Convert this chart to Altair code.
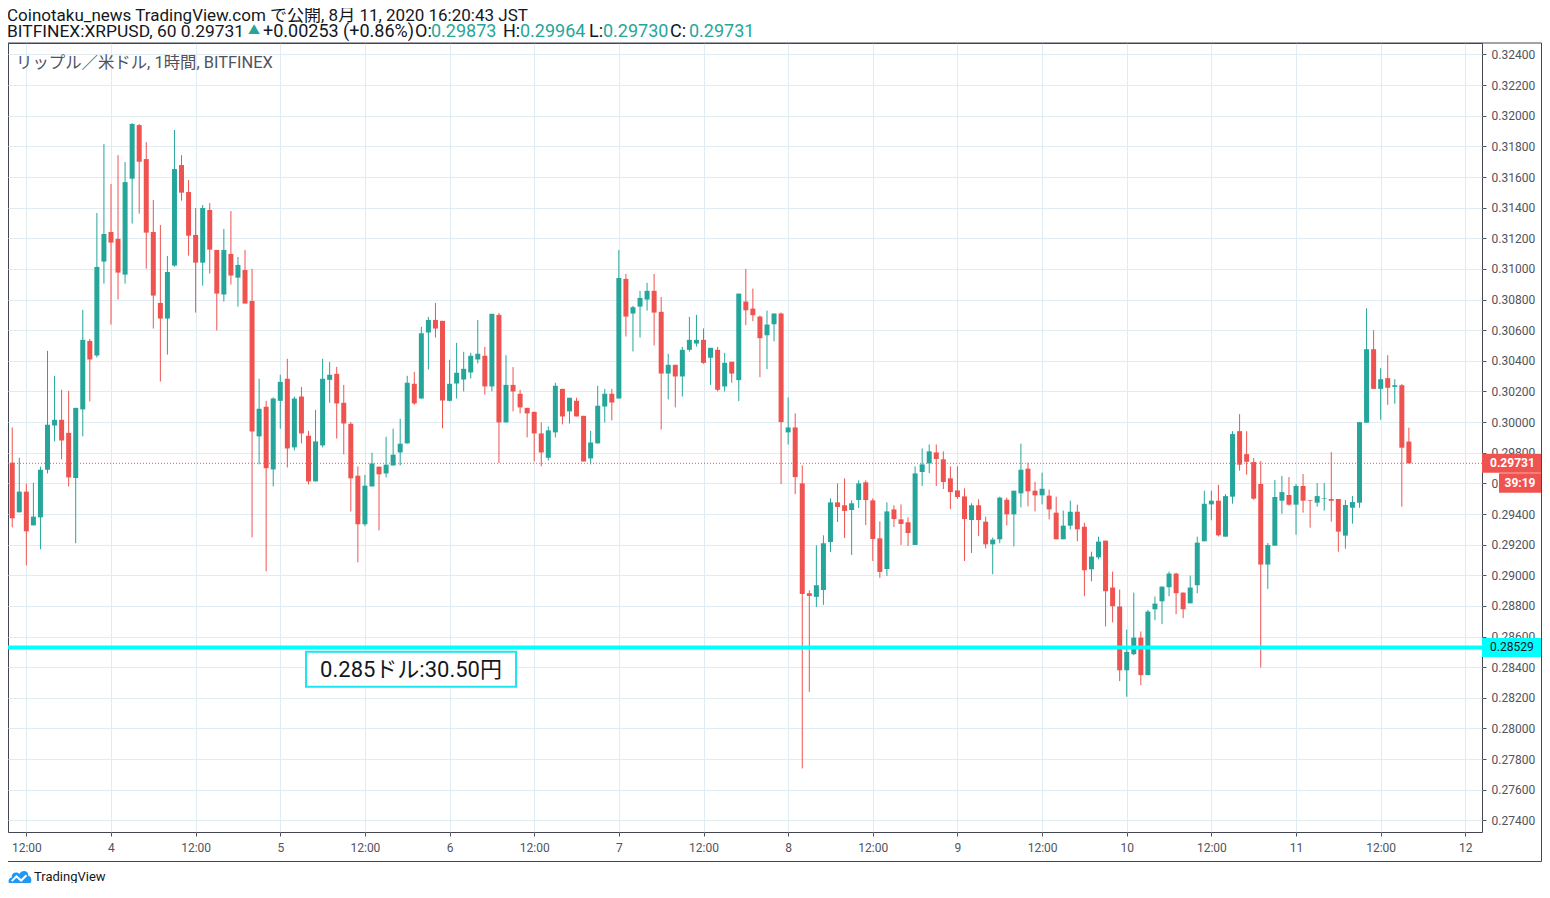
import altair as alt
import pandas as pd

# ---------------- data (hourly candles, JST) ----------------
first_candle = "2020-08-03 10:00"

opens = [
    .29735, .29411, .29546, .29326, .29378, .29689, .29978, .30015, .29930, .29635,
    .30083, .30530, .30435, .31048, .31241, .31196, .30963, .31589, .31939, .31717,
    .31241, .30778, .30676, .31022, .31678, .31502, .31222, .31041, .31385, .31124,
    .30833, .31098, .30943, .30993, .30791, .29907, .30100, .29691, .30139, .30283,
    .29835, .30167, .29911, .29613, .29848, .30276, .30315, .30126, .29989, .29650,
    .29333, .29580, .29709, .29665, .29717, .29802, .29861, .30250, .30154, .30585,
    .30667, .30661, .30139, .30252, .30278, .30324, .30409, .30433, .30233, .30700,
    .29998, .30243, .30185, .30093, .30067, .29926, .29767, .29933, .30217, .30070,
    .30139, .30041, .29763, .29861, .30102, .30185, .30154, .30935, .30709, .30754,
    .30800, .30857, .30720, .30317, .30374, .30298, .30472, .30513, .30537, .30420,
    .30472, .30233, .30394, .30274, .30787, .30741, .30689, .30567, .30639, .30709,
    .29933, .29965, .29600, .28883, .28859, .28904, .29217, .29476, .29457, .29426,
    .29491, .29607, .29489, .29241, .29041, .29430, .29365, .29346, .29198, .29674,
    .29730, .29802, .29757, .29633, .29554, .29515, .29361, .29457, .29350, .29202,
    .29235, .29493, .29398, .29535, .29696, .29552, .29522, .29520, .29409, .29235,
    .29324, .29415, .29317, .29039, .29117, .29226, .28920, .28796, .28380, .28485,
    .28593, .28348, .28778, .28830, .28922, .29011, .28887, .28817, .28935, .29222,
    .29463, .29487, .29252, .29513, .29941, .29791, .29739, .29596, .29070, .29193,
    .29487, .29524, .29461, .29583, .29491, .29474, .29500, .29498, .29498, .29259,
    .29441, .29474, .29996, .30476, .30217, .30287, .30230, .30241, .29873,
]
highs = [
    .29965, .29767, .29598, .29604, .29709, .30465, .30302, .30211, .30204, .30093,
    .30733, .30543, .31365, .31815, .31554, .31743, .31698, .31952, .31946, .31828,
    .31450, .31287, .31085, .31907, .31743, .31580, .31398, .31417, .31430, .31124,
    .31261, .31378, .31078, .31124, .31000, .30283, .30139, .30161, .30309, .30413,
    .30167, .30230, .29943, .30080, .30413, .30393, .30361, .30243, .30000, .29711,
    .29656, .29800, .29709, .29904, .29957, .30022, .30302, .30328, .30622, .30687,
    .30778, .30661, .30407, .30517, .30459, .30452, .30667, .30491, .30707, .30713,
    .30437, .30359, .30211, .30093, .30067, .29998, .29972, .30257, .30217, .30159,
    .30159, .30041, .29943, .30237, .30217, .30217, .31124, .30967, .30759, .30857,
    .30909, .30967, .30817, .30446, .30374, .30491, .30687, .30700, .30611, .30485,
    .30491, .30452, .30394, .30839, .31000, .30872, .30696, .30728, .30709, .30715,
    .30161, .30057, .29717, .28902, .29196, .29261, .29502, .29600, .29633, .29489,
    .29620, .29620, .29502, .29352, .29476, .29457, .29463, .29378, .29711, .29828,
    .29854, .29854, .29809, .29711, .29711, .29567, .29470, .29496, .29383, .29246,
    .29513, .29507, .29552, .29859, .29735, .29611, .29670, .29559, .29513, .29422,
    .29487, .29461, .29343, .29154, .29252, .29226, .29024, .28907, .28646, .28887,
    .28633, .28774, .28861, .28926, .29024, .29017, .28887, .28998, .29252, .29552,
    .29552, .29591, .29530, .29941, .30052, .29941, .29765, .29746, .29211, .29622,
    .29648, .29641, .29596, .29661, .29491, .29602, .29602, .29804, .29498, .29491,
    .29517, .30000, .30743, .30600, .30352, .30437, .30280, .30248, .29964,
]
lows = [
    .29313, .29411, .29065, .29326, .29170, .29665, .29874, .29757, .29580, .29209,
    .29907, .30135, .30422, .30904, .30637, .30800, .30904, .31296, .31361, .31002,
    .30611, .30265, .30441, .31015, .31446, .31087, .30715, .30891, .30970, .30598,
    .30787, .30898, .30754, .30774, .29248, .29724, .29026, .29580, .29957, .29704,
    .29815, .29861, .29593, .29613, .29835, .30126, .29893, .29789, .29417, .29085,
    .29320, .29580, .29293, .29639, .29717, .29717, .29861, .30113, .30154, .30343,
    .30552, .29959, .30135, .30154, .30200, .30285, .30383, .30180, .30200, .29733,
    .29998, .30070, .30057, .29900, .29743, .29711, .29750, .29900, .29985, .29991,
    .30037, .29743, .29724, .29861, .29998, .30011, .30154, .30559, .30461, .30552,
    .30728, .30500, .29952, .30148, .30096, .30167, .30461, .30493, .30381, .30243,
    .30200, .30200, .30257, .30137, .30633, .30659, .30293, .30346, .30528, .29596,
    .29854, .29530, .27739, .28239, .28793, .28807, .29152, .29348, .29243, .29133,
    .29439, .29328, .29093, .28983, .28996, .29315, .29198, .29191, .29198, .29583,
    .29667, .29583, .29563, .29433, .29498, .29093, .29146, .29257, .29176, .29007,
    .29209, .29326, .29189, .29443, .29450, .29417, .29463, .29365, .29235, .29235,
    .29300, .29222, .28863, .28961, .29104, .28667, .28693, .28309, .28207, .28478,
    .28283, .28348, .28707, .28681, .28863, .28746, .28720, .28817, .28883, .29222,
    .29359, .29254, .29252, .29467, .29683, .29657, .29493, .28398, .28911, .29193,
    .29402, .29454, .29265, .29409, .29311, .29448, .29422, .29350, .29154, .29174,
    .29337, .29441, .29996, .30217, .30015, .30113, .30120, .29448, .29730,
]
closes = [
    .29372, .29546, .29287, .29383, .29689, .29983, .30015, .29880, .29639, .30093,
    .30537, .30409, .31013, .31228, .31172, .30976, .31567, .31946, .31700, .31237,
    .30826, .30676, .30980, .31652, .31498, .31217, .31041, .31398, .31126, .30839,
    .31124, .30957, .31026, .30774, .29939, .30087, .29698, .30154, .30263, .29828,
    .30154, .29926, .29613, .29874, .30283, .30309, .30122, .29991, .29633, .29333,
    .29585, .29730, .29659, .29722, .29787, .29859, .30257, .30122, .30580, .30667,
    .30611, .30141, .30250, .30322, .30348, .30433, .30446, .30233, .30707, .29998,
    .30243, .30200, .30096, .30057, .29926, .29802, .29946, .30237, .30037, .30159,
    .30037, .29743, .29867, .30107, .30185, .30128, .30941, .30689, .30750, .30811,
    .30857, .30715, .30317, .30374, .30298, .30472, .30537, .30537, .30387, .30485,
    .30211, .30387, .30317, .30839, .30730, .30698, .30548, .30637, .30709, .30000,
    .29965, .29641, .28878, .28865, .28935, .29209, .29476, .29446, .29420, .29470,
    .29600, .29491, .29237, .29022, .29417, .29367, .29335, .29276, .29665, .29724,
    .29809, .29759, .29609, .29543, .29511, .29367, .29457, .29361, .29202, .29233,
    .29507, .29398, .29552, .29689, .29548, .29522, .29565, .29430, .29235, .29324,
    .29415, .29300, .29033, .29122, .29220, .28896, .28798, .28380, .28500, .28593,
    .28348, .28763, .28815, .28926, .29011, .28883, .28778, .28920, .29213, .29467,
    .29487, .29261, .29517, .29922, .29722, .29741, .29500, .29070, .29198, .29511,
    .29543, .29461, .29583, .29487, .29487, .29517, .29504, .29487, .29285, .29459,
    .29478, .30000, .30476, .30217, .30280, .30224, .30241, .29833, .29731,
]

price_ticks = [0.274, 0.276, 0.278, 0.280, 0.282, 0.284, 0.286, 0.288, 0.290, 0.292,
               0.294, 0.296, 0.298, 0.300, 0.302, 0.304, 0.306, 0.308, 0.310, 0.312,
               0.314, 0.316, 0.318, 0.320, 0.322, 0.324]
price_domain = [0.27324, 0.32475]
time_domain = ["2020-08-03 09:24", "2020-08-12 02:22"]
time_ticks = ["2020-08-03 12:00", "2020-08-04 00:00", "2020-08-04 12:00", "2020-08-05 00:00",
              "2020-08-05 12:00", "2020-08-06 00:00", "2020-08-06 12:00", "2020-08-07 00:00",
              "2020-08-07 12:00", "2020-08-08 00:00", "2020-08-08 12:00", "2020-08-09 00:00",
              "2020-08-09 12:00", "2020-08-10 00:00", "2020-08-10 12:00", "2020-08-11 00:00",
              "2020-08-11 12:00", "2020-08-12 00:00"]
bold_tick = "2020-08-10 00:00"

last_price = 0.29731
support_price = 0.28529
countdown = "39:19"
note_text = "0.285ドル:30.50円"
note_time = "2020-08-05 03:39"
note_price = 0.285

title_line = "Coinotaku_news TradingView.com で公開, 8月 11, 2020 16:20:43 JST"
subtitle = "リップル／米ドル, 1時間, BITFINEX"

# ---------------- styling ----------------
GREEN = "#26a69a"
RED = "#ef5350"
CYAN = "#00ffff"
AX = "#50535e"
GRID = "#e1ecf2"
TXT = "#131722"
FONT = "Roboto, 'Noto Sans CJK JP', sans-serif"
W, H = 1474, 789


def ms(s):
    return int(pd.Timestamp(s).value // 10**6)


times = pd.date_range(first_candle, periods=len(opens), freq="h")
df = pd.DataFrame({
    "t": [int(t.value // 10**6) for t in times],
    "o": opens, "h": highs, "l": lows, "c": closes,
})

xscale = alt.Scale(type="utc", domain=[ms(time_domain[0]), ms(time_domain[1])], padding=0)
yscale = alt.Scale(domain=price_domain, nice=False, zero=False, padding=0)

x_axis = alt.Axis(
    values=[ms(v) for v in time_ticks],
    labelExpr="utchours(datum.value) == 12 ? '12:00' : '' + utcdate(datum.value)",
    title=None, grid=True, gridColor=GRID, gridWidth=1, domain=False,
    tickColor=AX, tickSize=4, labelColor=AX, labelFontSize=12, labelPadding=6,
    labelFont=FONT, labelFlush=False, labelOverlap=False,
    labelFontWeight={"condition": {"test": f"datum.value == {ms(bold_tick)}", "value": "bold"},
                     "value": "normal"},
)
y_axis = alt.Axis(
    orient="right", values=price_ticks, format=".5f", title=None, grid=True,
    gridColor=GRID, gridWidth=1, domain=False, tickColor=AX, tickSize=4,
    labelColor=AX, labelFontSize=12, labelPadding=5, labelFont=FONT,
    labelOverlap=False, labelFlush=False,
)


def X(field):
    return alt.X(field, scale=xscale, axis=x_axis)


def Y(field):
    return alt.Y(field, scale=yscale, axis=y_axis)


candle_color = alt.condition("datum.c >= datum.o", alt.value(GREEN), alt.value(RED))

wicks = alt.Chart(df).mark_rule(strokeWidth=1).encode(
    x=X("t:T"), y=Y("l:Q"), y2="h:Q", color=candle_color,
)
bodies = alt.Chart(df).mark_bar(size=5).encode(
    x=X("t:T"), y=Y("o:Q"), y2="c:Q", color=candle_color,
)

last_df = pd.DataFrame({"p": [last_price], "label": [f"{last_price:.5f}"], "cd": [countdown]})
sup_df = pd.DataFrame({"p": [support_price], "label": [f"{support_price:.5f}"]})
note_df = pd.DataFrame({"t": [ms(note_time)], "p": [note_price], "label": [note_text]})

last_line = alt.Chart(last_df).mark_rule(color=RED, strokeWidth=1, strokeDash=[1, 2]).encode(y=Y("p:Q"))
sup_line = alt.Chart(sup_df).mark_rule(color=CYAN, strokeWidth=4).encode(y=Y("p:Q"))

note_box = alt.Chart(note_df).mark_rect(
    fill="white", stroke="#19e6f0", strokeWidth=2, x2Offset=210, y2Offset=35
).encode(x=X("t:T"), x2="t:T", y=Y("p:Q"), y2="p:Q")
note_label = alt.Chart(note_df).mark_text(
    fontSize=22, align="center", baseline="middle", dx=105, dy=18, color=TXT, font=FONT
).encode(x=X("t:T"), y=Y("p:Q"), text="label:N")

AXL = W + 8  # left edge of the price labels
last_box = alt.Chart(last_df).mark_rect(color=RED, yOffset=-9.5, y2Offset=9.5).encode(
    x=alt.value(W), x2=alt.value(W + 60), y=Y("p:Q"), y2="p:Q")
last_txt = alt.Chart(last_df).mark_text(
    color="white", fontWeight="bold", fontSize=12, align="left", baseline="middle", font=FONT
).encode(x=alt.value(AXL), y=Y("p:Q"), text="label:N")
cd_box = alt.Chart(last_df).mark_rect(color=RED, yOffset=10, y2Offset=29.5).encode(
    x=alt.value(W + 17), x2=alt.value(W + 60), y=Y("p:Q"), y2="p:Q")
cd_txt = alt.Chart(last_df).mark_text(
    color="white", fontWeight="bold", fontSize=12, align="center", baseline="middle", dy=19.5, font=FONT
).encode(x=alt.value(W + 38), y=Y("p:Q"), text="cd:N")
sup_box = alt.Chart(sup_df).mark_rect(color=CYAN, yOffset=-9.5, y2Offset=9.5).encode(
    x=alt.value(W), x2=alt.value(W + 60), y=Y("p:Q"), y2="p:Q")
sup_txt = alt.Chart(sup_df).mark_text(
    color=TXT, fontSize=12, align="left", baseline="middle", font=FONT
).encode(x=alt.value(AXL), y=Y("p:Q"), text="label:N")


def text_at(s, x, y, size=17, color=TXT, weight="normal", align="left"):
    return alt.Chart(pd.DataFrame({"s": [s]})).mark_text(
        align=align, baseline="middle", fontSize=size, color=color, fontWeight=weight, font=FONT
    ).encode(x=alt.value(x), y=alt.value(y), text="s:N")


header = [
    text_at(title_line, -1, -27),
    text_at("BITFINEX:XRPUSD, 60 0.29731", -1, -11, size=17.4),
    text_at("▲", 240, -12, size=12, color=GREEN),
    text_at("+0.00253 (+0.86%)", 255, -11, size=18),
    text_at("O:", 407, -11, size=18),
    text_at("0.29873", 423, -11, size=18, color=GREEN),
    text_at("H:", 495, -11, size=18),
    text_at("0.29964", 512, -11, size=18, color=GREEN),
    text_at("L:", 581, -11, size=18),
    text_at("0.29730", 595, -11, size=18, color=GREEN),
    text_at("C:", 662, -11, size=18),
    text_at("0.29731", 681, -11, size=18, color=GREEN),
    text_at(subtitle, 8, 20, size=16.4, color="#50535e"),
]

one = pd.DataFrame({"k": [0]})
frame = alt.Chart(one).mark_rect(fillOpacity=0, stroke="#434651", strokeWidth=1).encode(
    x=alt.value(-0.5), x2=alt.value(W + 59.5), y=alt.value(0), y2=alt.value(818.5))

cloud = ("M -0.75 0.6 C -1.05 0.6 -1.05 0.1 -0.7 0.05 C -0.75 -0.35 -0.3 -0.5 -0.05 -0.25 "
         "C 0.1 -0.65 0.75 -0.6 0.7 -0.1 C 1.05 -0.05 1.05 0.6 0.7 0.6 Z")
zig = "M -0.7 0.35 L -0.3 -0.05 L 0.1 0.3 L 0.55 -0.15"
logo_cloud = alt.Chart(one).mark_point(shape=cloud, filled=True, color="#2196f3", size=560, opacity=1).encode(
    x=alt.value(12), y=alt.value(834))
logo_zig = alt.Chart(one).mark_point(shape=zig, filled=False, color="white", strokeWidth=2, size=560, opacity=1).encode(
    x=alt.value(12), y=alt.value(834))
logo_txt = text_at("TradingView", 26, 834, size=13)

chart = alt.layer(
    wicks, bodies, last_line, sup_line, note_box, note_label,
    last_box, last_txt, cd_box, cd_txt, sup_box, sup_txt,
    frame, logo_cloud, logo_zig, logo_txt, *header,
).properties(
    width=W, height=H,
    autosize=alt.AutoSizeParams(type="none"),
    padding={"left": 0, "top": 35, "right": 60, "bottom": 51},
    background="white",
).configure_view(stroke="#434651", strokeWidth=1)

chart.save("out.html", embed_options={"renderer": "svg", "actions": False})
